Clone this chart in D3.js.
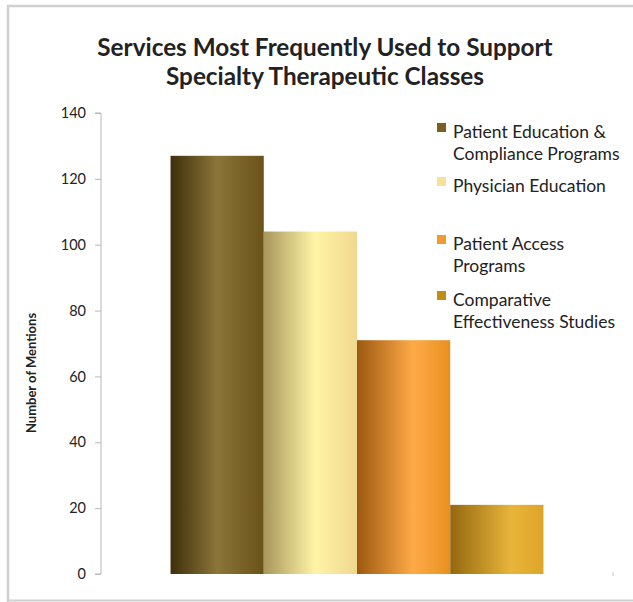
<!DOCTYPE html>
<html>
<head>
    <meta charset="utf-8">
    <title>Services Most Frequently Used</title>
    <style type="text/css">
        body{ margin:0; background:#fff; }
        svg text{ font-family: Lato, "Open Sans", sans-serif; fill:#222; }
    </style>
</head>
<body>
<div id="chart"></div>

<script src="https://cdn.jsdelivr.net/npm/d3@7"></script>
<script type="text/javascript">

var categories = ['Specialty Therapeutic Classes'];
var series = ['Patient Education & Compliance Programs', 'Physician Education',
              'Patient Access Programs', 'Comparative Effectiveness Studies'];
var values = [127, 104, 71, 21];
var legendLines = [['Patient Education &', 'Compliance Programs'],
                   ['Physician Education'],
                   ['Patient Access', 'Programs'],
                   ['Comparative', 'Effectiveness Studies']];
var yTicks = [0, 20, 40, 60, 80, 100, 120, 140];

var width = 633, height = 602;
var margin = {top:113, left:101, right:20, bottom:28};

// gradient stops per bar: edge, highlight, other edge
var swatch = ['#7a5e22', '#f8e196', '#f09a30', '#c08e14'];
var grads = [
    [['0%','#3e2f0c'],['50%','#8c7539'],['100%','#6a5218']],
    [['0%','#a8965c'],['55%','#fff4a6'],['100%','#f0d88e']],
    [['0%','#9c5810'],['60%','#ffaa48'],['100%','#e8901e']],
    [['0%','#946810'],['65%','#e8b43a'],['100%','#dea628']]
];

var svg = d3.select('#chart').append('svg')
    .attr('width', width)
    .attr('height', height);

// frame
svg.append('path')
    .attr('d', 'M8,' + (height + 5) + ' V6 H' + (width + 5))
    .attr('fill', 'none')
    .attr('stroke', '#d0d0d0')
    .attr('stroke-width', 2.5);
svg.append('line')
    .attr('x1', 8).attr('x2', width)
    .attr('y1', 600.5).attr('y2', 600.5)
    .attr('stroke', '#d0d0d0').attr('stroke-width', 2);

var defs = svg.append('defs');
grads.forEach(function(stops, i){
    var g = defs.append('linearGradient')
        .attr('id', 'g' + i)
        .attr('x1', '0%').attr('x2', '100%').attr('y1', '0%').attr('y2', '0%');
    stops.forEach(function(s){
        g.append('stop').attr('offset', s[0]).attr('stop-color', s[1]);
    });
});

// title
var title = svg.append('text')
    .attr('text-anchor', 'middle')
    .style('font-weight', 'bold')
    .style('font-size', '24.3px');
title.append('tspan').attr('x', 325).attr('y', 56).text('Services Most Frequently Used to Support');
title.append('tspan').attr('x', 325).attr('y', 85).text('Specialty Therapeutic Classes');

var plotRight = 613;
var y = d3.scaleLinear().domain([0, 140]).range([574, margin.top]);
var x0 = d3.scaleBand().domain(categories).range([margin.left, plotRight]).paddingInner(0).paddingOuter(0.1865);
var x1 = d3.scaleBand().domain(series).range([0, x0.bandwidth()]);

// y axis
var yAxis = svg.append('g')
    .attr('transform', 'translate(' + margin.left + ',0)')
    .call(d3.axisLeft(y).tickValues(yTicks).tickSize(6).tickPadding(9));
yAxis.selectAll('path, line').attr('stroke', '#b8b8b8');
yAxis.select('.domain').attr('d', 'M-6,' + y(140) + 'H0V' + y(0) + 'H-6');
yAxis.selectAll('text')
    .style('font-family', 'Lato, "Open Sans", sans-serif')
    .style('font-size', '14.5px')
    .attr('fill', '#333');

// tiny end tick on the x side
svg.append('line')
    .attr('x1', plotRight).attr('x2', plotRight)
    .attr('y1', y(0) - 2).attr('y2', y(0) + 2)
    .attr('stroke', '#c8c8c8');

svg.append('text')
    .attr('transform', 'translate(36,373) rotate(-90)')
    .attr('text-anchor', 'middle')
    .style('font-weight', 'bold')
    .style('font-size', '13px')
    .text('Number of Mentions');

// bars
svg.append('g').selectAll('rect')
    .data(series)
    .join('rect')
    .attr('x', function(d){ return x0(categories[0]) + x1(d); })
    .attr('width', x1.bandwidth())
    .attr('y', function(d, i){ return y(values[i]); })
    .attr('height', function(d, i){ return y(0) - y(values[i]); })
    .attr('fill', function(d, i){ return 'url(#g' + i + ')'; });

// legend
var legendTop = [138, 192, 250, 306];
var legend = svg.append('g');
legendLines.forEach(function(lines, i){
    legend.append('rect')
        .attr('x', 437).attr('y', legendTop[i] - 15)
        .attr('width', 9).attr('height', 9)
        .attr('fill', swatch[i]);
    var t = legend.append('text').style('font-size', '17.5px').attr('fill', '#333');
    lines.forEach(function(l, j){
        t.append('tspan').attr('x', 453).attr('y', legendTop[i] + j * 22).text(l);
    });
});

</script>
</body>
</html>
